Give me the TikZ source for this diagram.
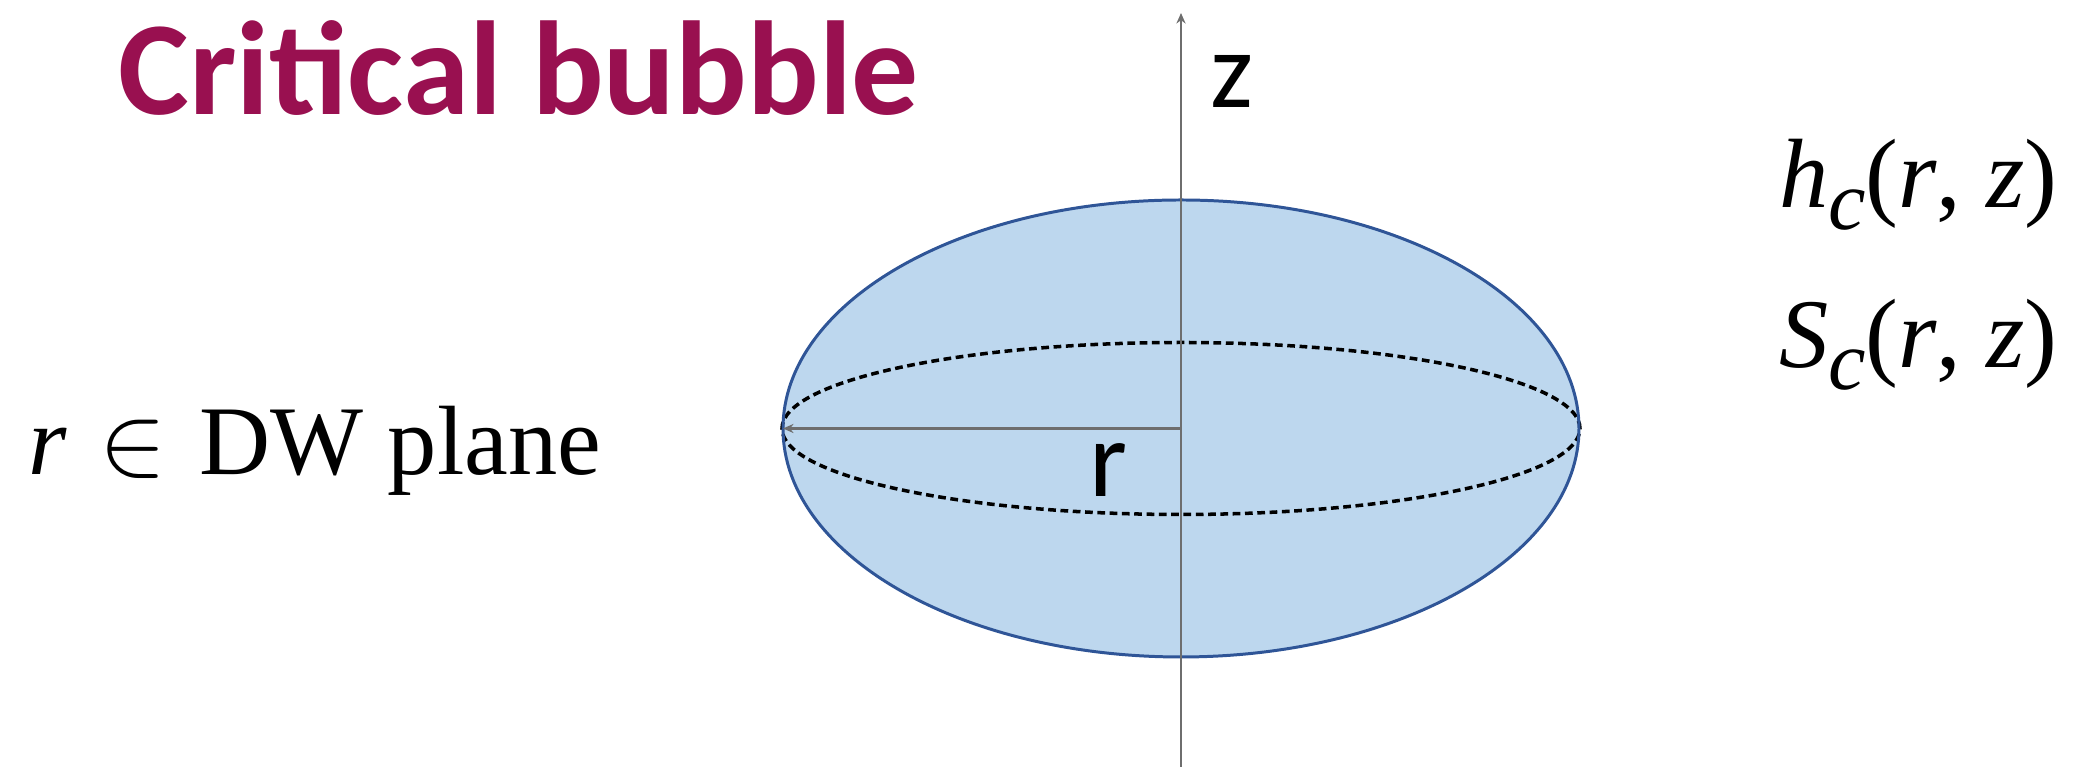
\documentclass[tikz,border=0pt]{standalone}
\usepackage{fontspec}
\setmainfont{Liberation Serif}
\newfontfamily\calib{Carlito}
\usepackage{tikz}
\usetikzlibrary{arrows.meta,positioning,calc}
\definecolor{titleMaroon}{RGB}{153, 16, 80}
\definecolor{bubbleFill}{RGB}{189, 215, 238}
\definecolor{bubbleEdge}{RGB}{47, 85, 151}
\definecolor{axisGray}{RGB}{110, 110, 110}
\newcommand{\subc}{\raisebox{-6pt}{\fontsize{24pt}{24pt}\selectfont\itshape c}}
\tikzset{
  serifLabel/.style={inner sep=0pt, font=\fontsize{28pt}{30pt}\selectfont},
  sansLabel/.style={inner sep=0pt, font=\calib\fontsize{31pt}{33pt}\selectfont},
  axisLine/.style={draw=axisGray, line width=0.5pt, -{Stealth[length=3pt, width=2.6pt]}}
}

\begin{document}
\begin{tikzpicture}[x=0.01cm, y=0.01cm]
      \useasboundingbox (0,0) rectangle (2074,767);

      \coordinate (origin) at (1181,338.5);
      \coordinate (bottom) at (1181,0);
      \coordinate (top) at (1181,754);
      \coordinate (rimLeft) at (783,338.5);

      % bubble and its equator
      \fill[bubbleFill] (origin) ellipse [x radius=398, y radius=228.5];
      \draw[dashed, dash pattern=on 2.2pt off 1.3pt, line width=1pt] (origin) ellipse [x radius=399, y radius=86];
      \draw[bubbleEdge, line width=0.85pt] (origin) ellipse [x radius=398, y radius=228.5];

      % axis and radius
      \draw[axisLine] (bottom) -- (top);
      \draw[axisLine, line width=0.6pt] (origin) -- (rimLeft);

      \node (title) [anchor=base west, inner sep=0pt, text=titleMaroon, font=\calib\bfseries\fontsize{38pt}{40pt}\selectfont] at (118,652) {Critical bubble};
      \node (zlabel) [sansLabel, anchor=base] at (1232,659) {z};
      \node (rlabel) [sansLabel, anchor=base] at (1108,270) {r};

      \node (plane) [serifLabel, anchor=base west] at (28,292) {\textit{r}\hspace{0.33em}\scalebox{1.15}{$\in$}\hspace{0.33em}DW plane};
      \node (hfun) [serifLabel, anchor=base east] at (2058,559) {\textit{h}\subc(\textit{r}, \textit{z})};
      \node (sfun) [serifLabel, anchor=base east] at (2058,399) {\textit{S}\subc(\textit{r}, \textit{z})};
\end{tikzpicture}
\end{document}
